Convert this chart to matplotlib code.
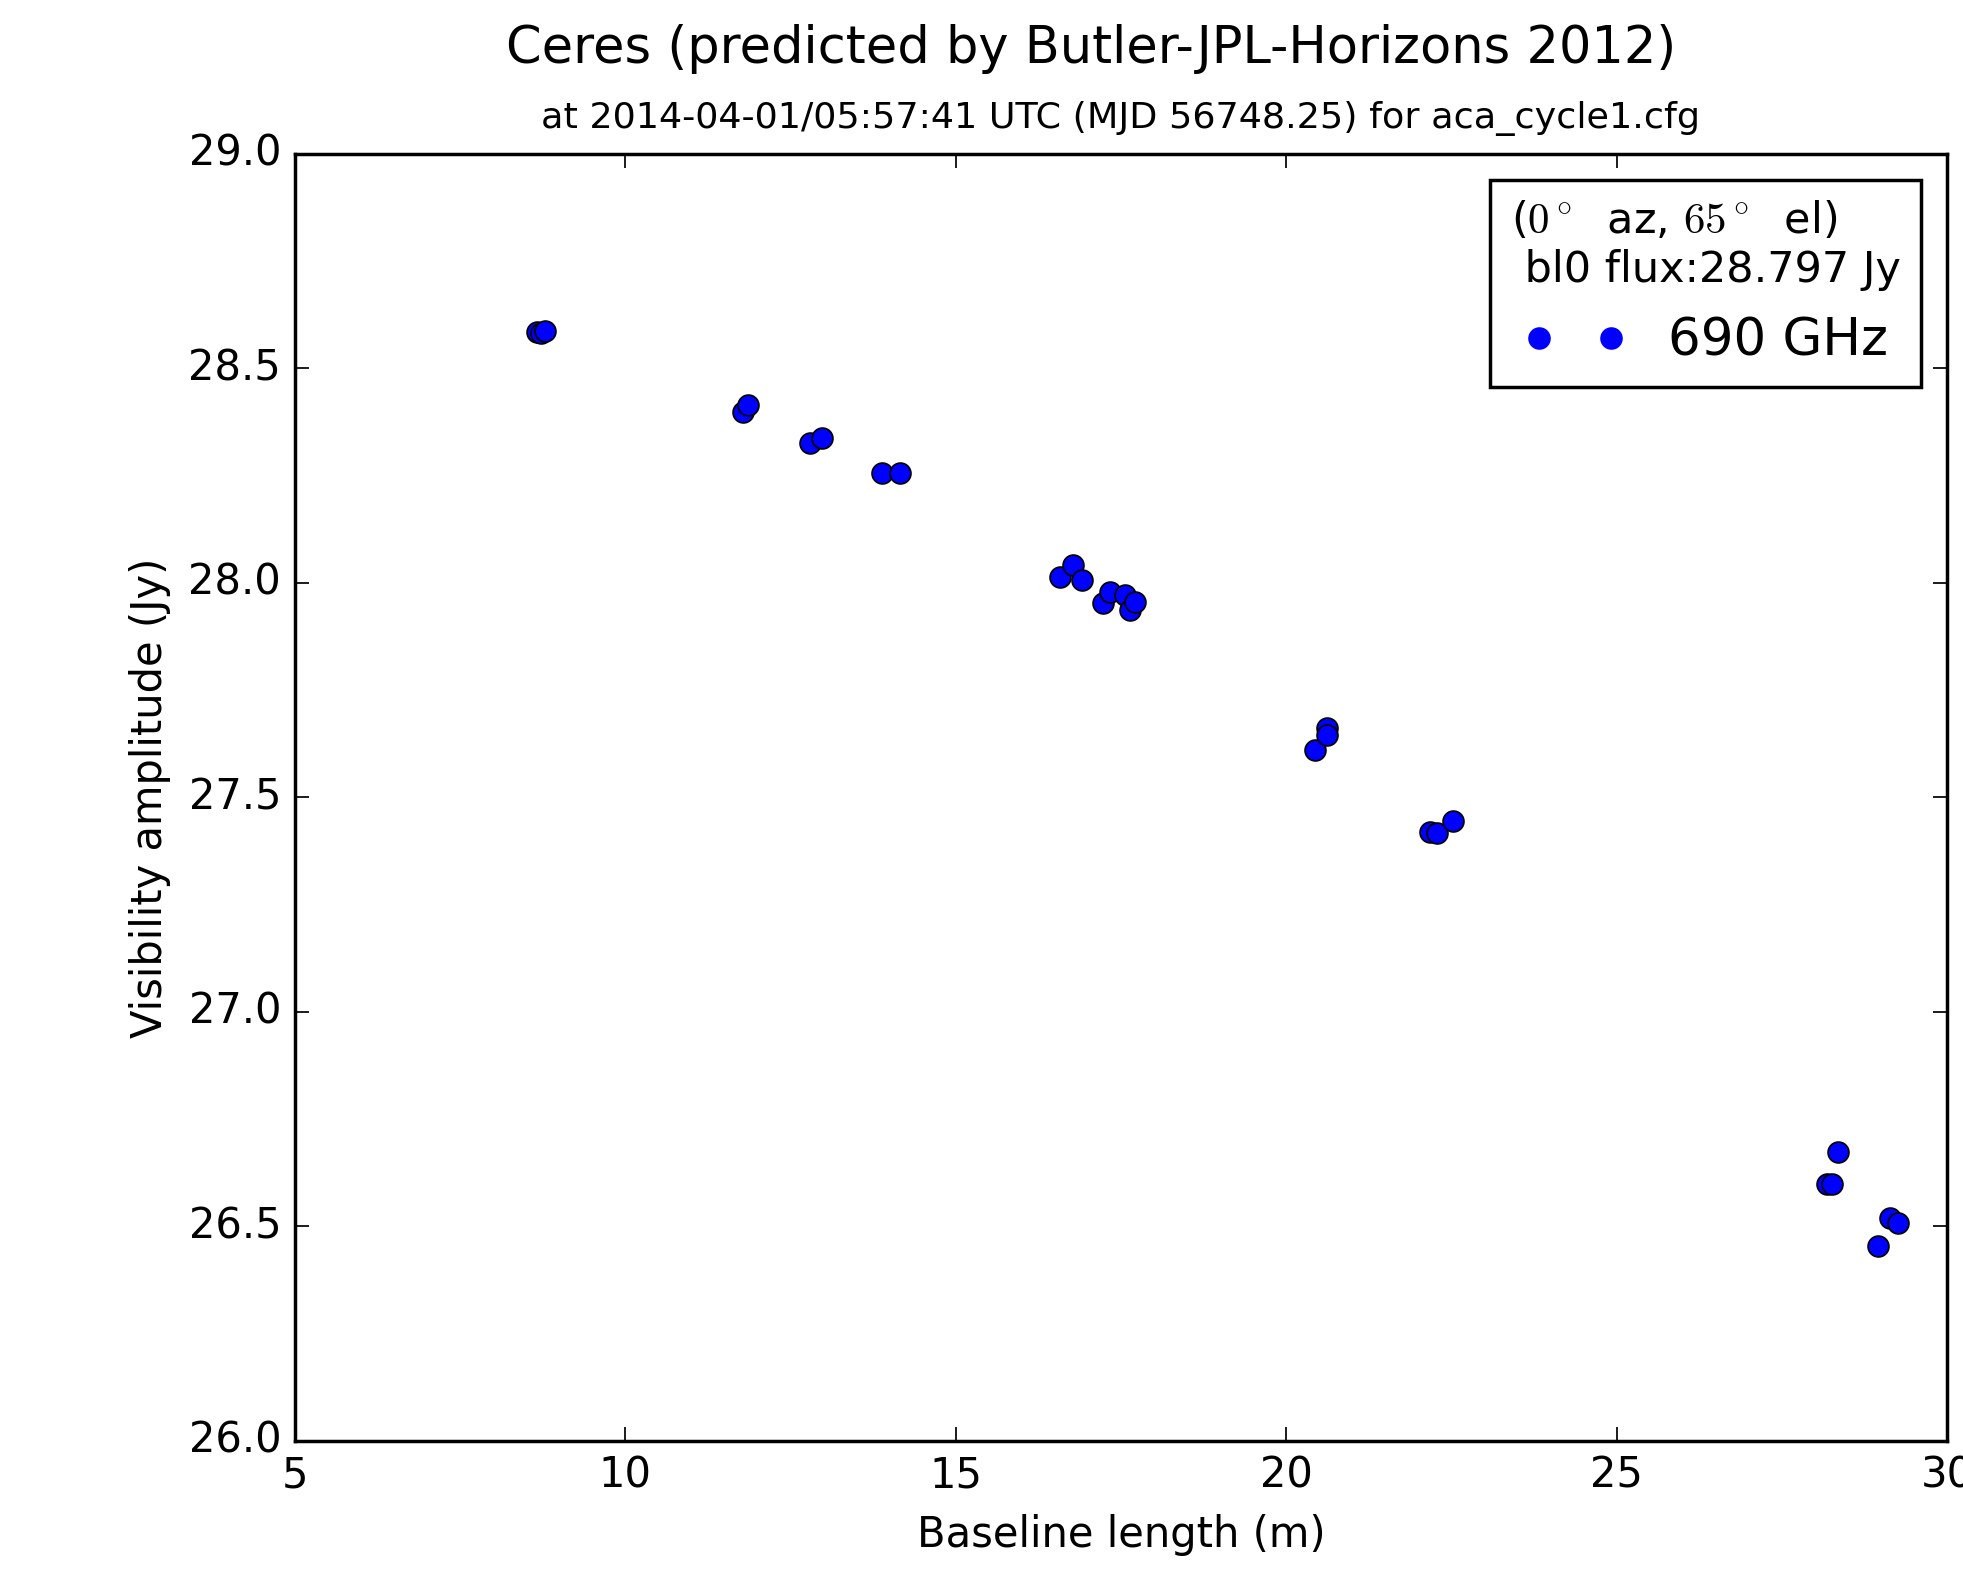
import matplotlib
matplotlib.use('Agg')
import matplotlib.pyplot as plt

plt.style.use('classic')

# baseline length (m) and visibility amplitude (Jy)
baseline = [8.66, 8.72, 8.79,
            11.78, 11.86,
            12.79, 12.98,
            13.88, 14.16,
            16.58, 16.77, 16.91,
            17.23, 17.33, 17.56, 17.64, 17.71,
            20.44, 20.62, 20.62,
            22.18, 22.28, 22.52,
            28.18, 28.26, 28.35,
            28.96, 29.14, 29.26]
amplitude = [28.585, 28.582, 28.587,
             28.399, 28.415,
             28.326, 28.338,
             28.256, 28.256,
             28.014, 28.042, 28.007,
             27.953, 27.979, 27.972, 27.937, 27.956,
             27.611, 27.662, 27.646,
             27.419, 27.417, 27.445,
             26.600, 26.600, 26.674,
             26.455, 26.520, 26.508]

dpi = 250
fig = plt.figure(dpi=dpi, figsize=(1963 / dpi, 1581 / dpi), facecolor='white')
ax = fig.add_axes([0.1503, 0.0886, 0.9918 - 0.1503, 0.9026 - 0.0886])

ax.plot(baseline, amplitude, 'bo', markersize=6, markeredgecolor='k',
        markeredgewidth=0.5, label='690 GHz')

ax.set_xlim(5, 30)
ax.set_ylim(26.0, 29.0)
ax.set_xticks([5, 10, 15, 20, 25, 30])
ax.set_yticks([26.0, 26.5, 27.0, 27.5, 28.0, 28.5, 29.0])
ax.yaxis.set_major_formatter(matplotlib.ticker.FormatStrFormatter('%.1f'))

ax.set_xlabel('Baseline length (m)')
ax.set_ylabel('Visibility amplitude (Jy)')
ax.set_title('at 2014-04-01/05:57:41 UTC (MJD 56748.25) for aca_cycle1.cfg',
             fontsize=10.5, pad=7.5)
fig.text(0.556, 0.969, 'Ceres (predicted by Butler-JPL-Horizons 2012)',
         ha='center', va='center', fontsize=14.7)

leg = ax.legend(loc='upper right', numpoints=2, fontsize=14.8,
                title='($0^\\circ$  az, $65^\\circ$  el)\n bl0 flux:28.797 Jy',
                title_fontsize=12.4)
leg.get_title().set_multialignment('left')
for h in leg.legend_handles:
    h.set_markeredgecolor('b')

fig.savefig('out.png', dpi=dpi, facecolor='white')
